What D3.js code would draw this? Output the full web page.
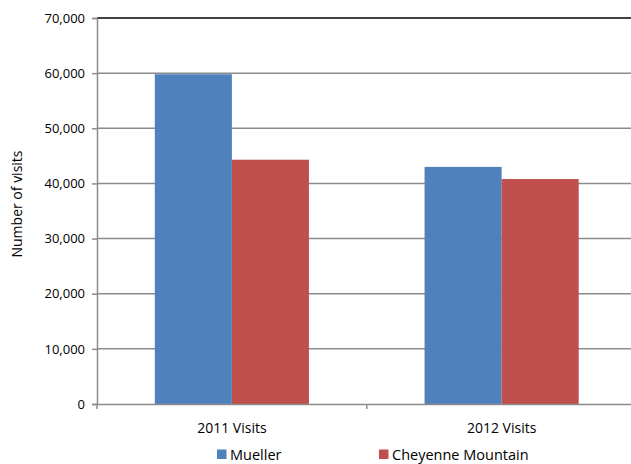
<!DOCTYPE html>
<html><head><meta charset="utf-8">
<script src="https://cdn.jsdelivr.net/npm/d3@7"></script>
<style>body{margin:0;background:#fff}svg{display:block}text{font-family:"Open Sans","Noto Sans",sans-serif;fill:#000}</style>
</head><body>
<script>
const categories = ["2011 Visits", "2012 Visits"];
const seriesNames = ["Mueller", "Cheyenne Mountain"];
const mueller = [59800, 43000];
const cheyenne = [44300, 40800];
const yTicks = [0, 10000, 20000, 30000, 40000, 50000, 60000, 70000];
const colors = ["#4F81BD", "#C0504D"];

(function () {
const W = 631, H = 464;
const svg = d3.select("body").append("svg").attr("width", W).attr("height", H);
const mL = 97, mR = 636.5, mT = 18, mB = 404;

const x = d3.scaleBand().domain(categories).range([mL, mR]).padding(0);
const y = d3.scaleLinear().domain([0, 70000]).range([mB, mT]);

// gridlines
svg.append("g").selectAll("line").data(yTicks.filter(d => d > 0 && d < 70000)).join("line")
  .attr("x1", mL).attr("x2", W).attr("y1", d => y(d)).attr("y2", d => y(d))
  .attr("stroke", "#8c8c8c").attr("stroke-width", 1.5);
svg.append("line").attr("x1", mL).attr("x2", W).attr("y1", y(70000)).attr("y2", y(70000))
  .attr("stroke", "#000").attr("stroke-width", 1.5);

// bars
const series = [mueller, cheyenne];
const groupW = x.bandwidth() / 1.75;
const inner = d3.scaleBand().domain(seriesNames).range([0, groupW]).padding(0);
categories.forEach((c, i) => {
  const gx = x(c) + (x.bandwidth() - groupW) / 2;
  series.forEach((s, j) => {
    svg.append("rect")
      .attr("x", gx + inner(seriesNames[j])).attr("width", inner.bandwidth())
      .attr("y", y(s[i])).attr("height", y(0) - y(s[i]))
      .attr("fill", colors[j]);
  });
});

// y axis
const yAxis = svg.append("g").attr("transform", `translate(${mL},0)`)
  .call(d3.axisLeft(y).tickValues(yTicks).tickSize(5).tickPadding(7).tickFormat(d3.format(",")));
yAxis.select(".domain").attr("stroke", "#8c8c8c").attr("stroke-width", 1.5);
yAxis.selectAll(".tick line").attr("stroke", "#8c8c8c").attr("stroke-width", 1.5);
yAxis.selectAll("text").attr("font-size", 13).attr("fill", "#000").style("font-family", '"Open Sans",sans-serif');

// x axis
const xAxis = svg.append("g").attr("transform", `translate(0,${mB})`)
  .call(d3.axisBottom(x).tickSize(0).tickPadding(19));
xAxis.select(".domain").attr("stroke", "#8c8c8c").attr("stroke-width", 1.5);
xAxis.selectAll("text").attr("font-size", 14).attr("fill", "#000").style("font-family", '"Open Sans",sans-serif');
svg.append("g").selectAll("line").data([mL, x(categories[1])]).join("line")
  .attr("x1", d => d).attr("x2", d => d).attr("y1", mB).attr("y2", mB + 5)
  .attr("stroke", "#8c8c8c").attr("stroke-width", 1.5);

// y title
svg.append("text").attr("transform", `translate(22,204) rotate(-90)`)
  .attr("text-anchor", "middle").attr("font-size", 14).text("Number of visits");

// legend
const legX = [217, 379];
seriesNames.forEach((n, j) => {
  svg.append("rect").attr("x", legX[j]).attr("y", 449.5).attr("width", 9.5).attr("height", 9.5).attr("fill", colors[j]);
  svg.append("text").attr("x", legX[j] + 13).attr("y", 459.5).attr("font-size", 14.5).text(n);
});
})();
</script>
</body></html>
